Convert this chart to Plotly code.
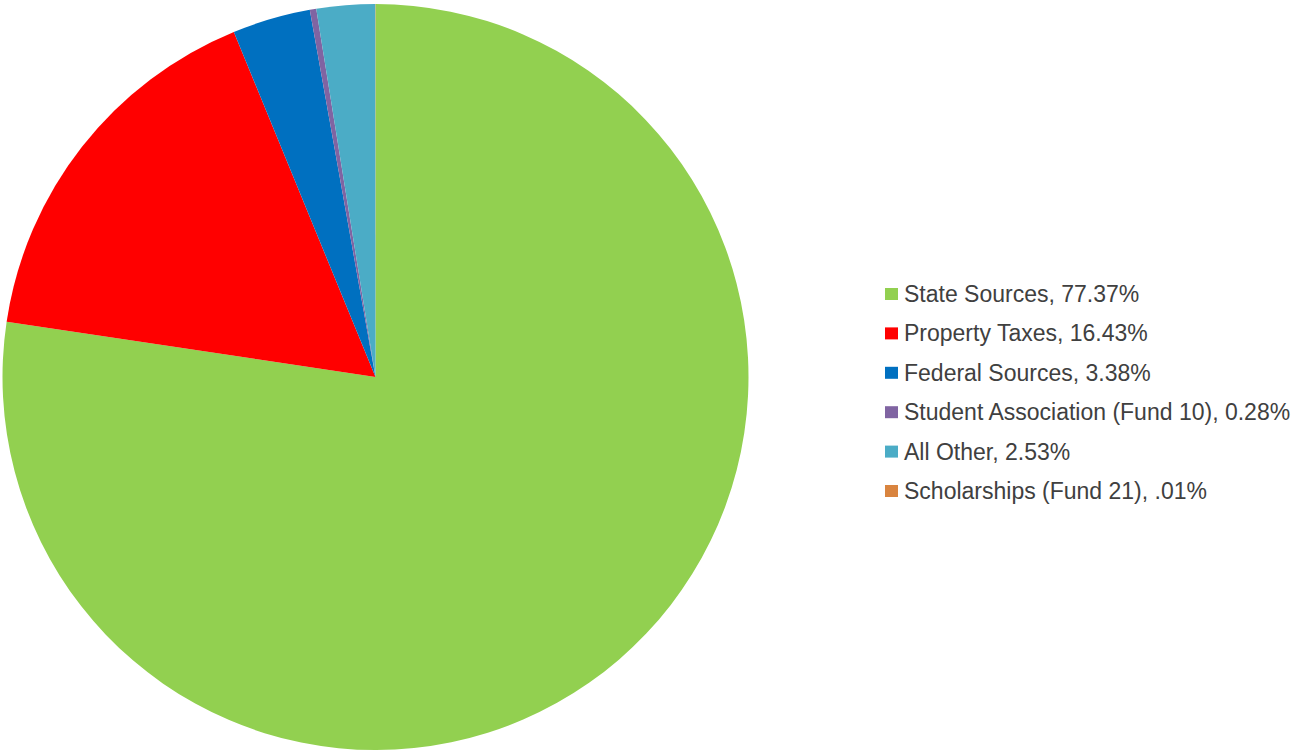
import plotly.graph_objects as go

labels = ["State Sources", "Property Taxes", "Federal Sources",
          "Student Association (Fund 10)", "All Other", "Scholarships (Fund 21)"]
values = [77.37, 16.43, 3.38, 0.28, 2.53, 0.01]
value_text = ["77.37%", "16.43%", "3.38%", "0.28%", "2.53%", ".01%"]
colors = ["#92D050", "#FF0000", "#0070C0", "#8064A2", "#4BACC6", "#D9843F"]

W, H = 1292, 751

fig = go.Figure()
fig.add_trace(go.Pie(
    labels=labels, values=values, sort=False, direction="clockwise", rotation=0,
    marker=dict(colors=colors, line=dict(width=0)),
    textinfo="none", showlegend=False,
    domain=dict(x=[2 / W, 749 / W], y=[1 - 750 / H, 1 - 4 / H]),
))

# legend drawn from the data arrays
x_sq0, x_sq1 = 885, 898
x_txt = 902
y0, dy = 294, 39.4
shapes, annotations = [], []
for i, (lab, vt, col) in enumerate(zip(labels, value_text, colors)):
    yc = y0 + i * dy
    shapes.append(dict(type="rect", xref="paper", yref="paper",
                       x0=x_sq0 / W, x1=x_sq1 / W,
                       y0=1 - (yc + 6) / H, y1=1 - (yc - 6) / H,
                       fillcolor=col, line=dict(width=0)))
    annotations.append(dict(xref="paper", yref="paper", x=x_txt / W, y=1 - yc / H,
                            xanchor="left", yanchor="middle", showarrow=False,
                            text=f"{lab}, {vt}",
                            font=dict(family="Liberation Sans, Arial", size=23, color="#404040")))

fig.update_layout(width=W, height=H, margin=dict(l=0, r=0, t=0, b=0),
                  paper_bgcolor="white", plot_bgcolor="white",
                  shapes=shapes, annotations=annotations)
fig.write_html("out.html", config={"displayModeBar": False},
               post_script="document.body.style.margin='0';document.body.style.overflow='hidden';")
